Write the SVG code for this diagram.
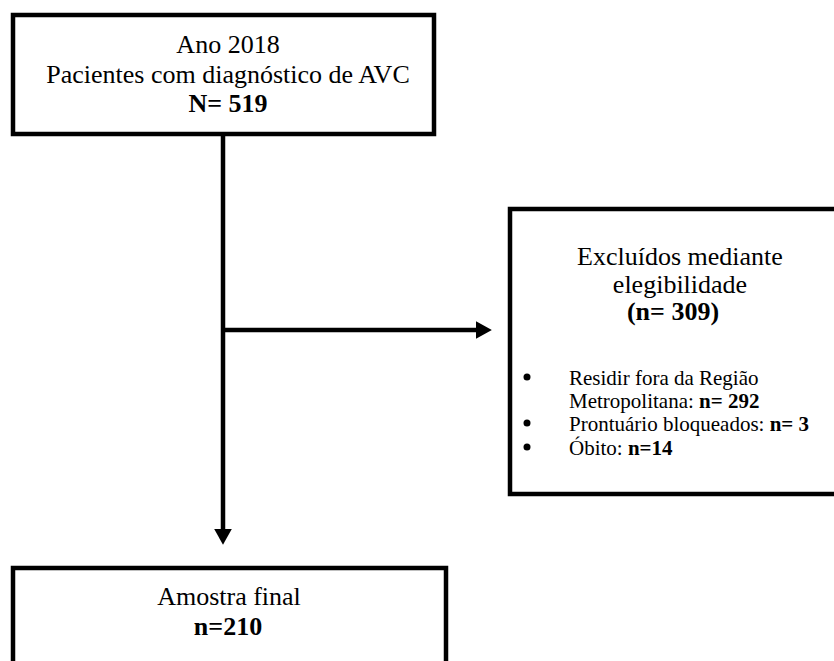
<svg xmlns="http://www.w3.org/2000/svg" width="834" height="661" viewBox="0 0 834 661">
<style>
.box{fill:#fff;stroke:#000;stroke-width:4.5}
.t{font-family:"Liberation Serif","Times New Roman",serif;fill:#000}
.big{font-size:26px;text-anchor:middle}
.small{font-size:21px}
.b{font-weight:bold}
.line{stroke:#000;stroke-width:4.5;fill:none}
</style>
<defs>
<marker id="arr" markerWidth="4" markerHeight="4" refX="0.3" refY="2" orient="auto" markerUnits="strokeWidth" viewBox="0 0 4 4">
<path d="M0,0 L3.6,2 L0,4 Z" fill="#000"/>
</marker>
</defs>
<rect width="834" height="661" fill="#fff"/>
<g id="connectors">
<line class="line" x1="223" y1="134" x2="223" y2="530" marker-end="url(#arr)"/>
<line class="line" x1="223" y1="330" x2="477" y2="330" marker-end="url(#arr)"/>
</g>
<g id="n1">
<rect class="box" x="13" y="15" width="421" height="119"/>
<text class="t big" x="228" y="53">Ano 2018</text>
<text class="t big" x="228" y="83">Pacientes com diagnóstico de AVC</text>
<text class="t big b" x="228" y="112">N= 519</text>
</g>
<g id="n2">
<rect class="box" x="510" y="209" width="340" height="285"/>
<text class="t big" x="680" y="265">Excluídos mediante</text>
<text class="t big" x="680" y="293">elegibilidade</text>
<text class="t big b" x="673" y="320">(n= 309)</text>
<circle cx="527" cy="377" r="3.5" fill="#000"/>
<circle cx="527" cy="423" r="3.5" fill="#000"/>
<circle cx="527" cy="447" r="3.5" fill="#000"/>
<text class="t small" x="569" y="385">Residir fora da Região</text>
<text class="t small" x="569" y="408">Metropolitana: <tspan class="b">n= 292</tspan></text>
<text class="t small" x="569" y="431">Prontuário bloqueados: <tspan class="b">n= 3</tspan></text>
<text class="t small" x="569" y="455">Óbito: <tspan class="b">n=14</tspan></text>
</g>
<g id="n3">
<rect class="box" x="13" y="568" width="433" height="120"/>
<text class="t big" x="229" y="605">Amostra final</text>
<text class="t big b" x="228" y="635">n=210</text>
</g>
</svg>
